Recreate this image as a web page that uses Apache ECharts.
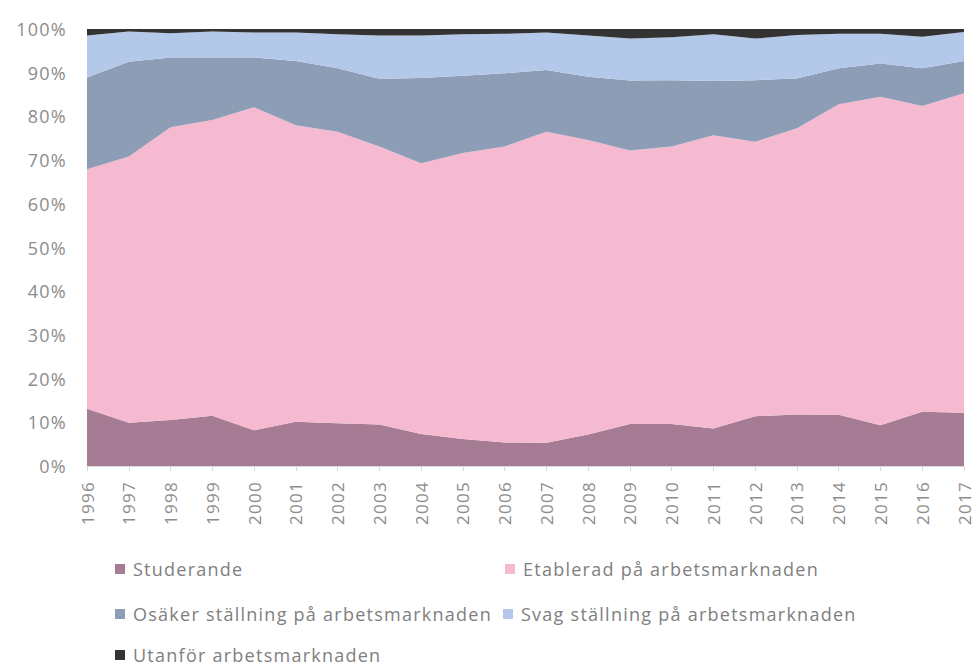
<!DOCTYPE html>
<html>
<head>
<meta charset="utf-8">
<title>Arbetsmarknad 1996-2017</title>
<script src="https://cdn.jsdelivr.net/npm/echarts@6/dist/echarts.min.js"></script>
<style>
  html, body { margin: 0; padding: 0; background: #fff; }
  #main { width: 976px; height: 668px; }
  /* texten i originalet är glest spärrad */
  #main svg text { letter-spacing: 1.25px; }
</style>
</head>
<body>
<div id="main"></div>
<script>
// år på x-axeln
const years = ["1996", "1997", "1998", "1999", "2000", "2001", "2002", "2003", "2004", "2005", "2006",
  "2007", "2008", "2009", "2010", "2011", "2012", "2013", "2014", "2015", "2016", "2017"];

// andelar i procent
const studerande = [13.1, 9.9, 10.5, 11.5, 8.2, 10.1, 9.8, 9.5, 7.3, 6.2, 5.4, 5.3, 7.2, 9.6, 9.6, 8.6, 11.4, 11.8, 11.7, 9.3, 12.4, 12.2];
const etablerad = [54.8, 60.9, 67.0, 67.7, 73.9, 67.9, 66.7, 63.6, 62.0, 65.4, 67.7, 71.2, 67.4, 62.6, 63.5, 67.1, 62.8, 65.5, 71.1, 75.2, 70.0, 73.1];
const osaker = [21.0, 21.7, 16.0, 14.3, 11.4, 14.7, 14.5, 15.5, 19.5, 17.7, 16.8, 14.1, 14.5, 16.0, 15.2, 12.4, 14.1, 11.4, 8.2, 7.6, 8.6, 7.4];
const svag = [9.6, 6.9, 5.5, 5.9, 5.7, 6.5, 7.8, 9.9, 9.7, 9.5, 9.0, 8.6, 9.4, 9.6, 9.8, 10.7, 9.5, 9.9, 7.9, 6.8, 7.2, 6.6];
const utanfor = [1.5, 0.6, 1.0, 0.6, 0.8, 0.8, 1.2, 1.5, 1.5, 1.2, 1.1, 0.8, 1.5, 2.2, 1.9, 1.2, 2.2, 1.4, 1.1, 1.1, 1.8, 0.7];

const names = [
  "Studerande",
  "Etablerad på arbetsmarknaden",
  "Osäker ställning på arbetsmarknaden",
  "Svag ställning på arbetsmarknaden",
  "Utanför arbetsmarknaden",
];
const colors = ["#a67b94", "#f5b9d0", "#8d9db6", "#b4c8e9", "#333333"];
const values = [studerande, etablerad, osaker, svag, utanfor];

const myChart = echarts.init(document.getElementById("main"), null, { renderer: "svg" });

const textFont = "'Open Sans', 'Liberation Sans', sans-serif";

// en legend per post så att placeringen blir som i originalet
function legendAt(name, left, top) {
  return {
    data: [name],
    left: left,
    top: top,
    icon: "rect",
    itemWidth: 10,
    itemHeight: 10,
    itemGap: 0,
    padding: 0,
    textStyle: {
      color: "#808080",
      fontSize: 18,
      fontFamily: textFont,
      padding: [0, 0, 0, 3],
    },
  };
}

const option = {
  color: colors,
  animation: false,
  grid: {
    left: 87,
    right: 12,
    top: 29,
    bottom: 202,
  },
  legend: [
    legendAt(names[0], 115, 560),
    legendAt(names[1], 505, 560),
    legendAt(names[2], 115, 605),
    legendAt(names[3], 503, 605),
    legendAt(names[4], 115, 646),
  ],
  xAxis: {
    type: "category",
    data: years,
    boundaryGap: false,
    axisLine: { lineStyle: { color: "#d9d9d9" } },
    axisTick: { show: true, length: 5, lineStyle: { color: "#d9d9d9" } },
    axisLabel: {
      rotate: 90,
      margin: 15,
      color: "#8c8c8c",
      fontSize: 17,
      fontFamily: textFont,
    },
  },
  yAxis: {
    type: "value",
    min: 0,
    max: 100,
    interval: 10,
    axisLine: { show: false },
    axisTick: { show: false },
    splitLine: { show: false },
    axisLabel: {
      formatter: "{value}%",
      margin: 20,
      color: "#8c8c8c",
      fontSize: 18,
      fontFamily: textFont,
    },
  },
  series: names.map((name, i) => ({
    name: name,
    type: "line",
    stack: "total",
    symbol: "none",
    lineStyle: { width: 0 },
    areaStyle: { color: colors[i], opacity: 1 },
    data: values[i],
  })),
};

myChart.setOption(option);
</script>
</body>
</html>
